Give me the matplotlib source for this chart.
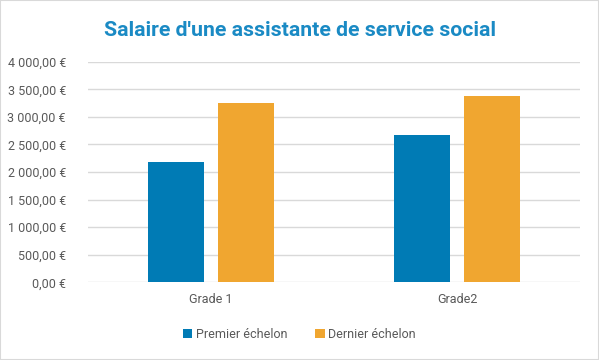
import numpy as np
import matplotlib.pyplot as plt
from matplotlib.ticker import FuncFormatter
from matplotlib.patches import Rectangle

categories = ['Grade 1', 'Grade2']
series_names = ['Premier échelon', 'Dernier échelon']
premier = [2187, 2665]
dernier = [3257, 3378]

colors = ['#007BB5', '#F0A630']
grey = '#595959'

plt.rcParams['font.family'] = ['Roboto', 'DejaVu Sans']

fig = plt.figure(figsize=(5.99, 3.6), dpi=100)
ax = fig.add_axes([88/599, 1 - 282.3/360, (580 - 88)/599, (282.3 - 61.7)/360])

x = np.arange(len(categories))
w = 0.23
off = 0.143
ax.bar(x - off, premier, w, color=colors[0], label=series_names[0], zorder=3)
ax.bar(x + off, dernier, w, color=colors[1], label=series_names[1], zorder=3)

ax.set_xlim(-0.5, 1.5)
ax.set_ylim(0, 4000)
ax.set_yticks(np.arange(0, 4001, 500))
ax.set_xticks(x)
ax.set_xticklabels(categories)

def euro(v, pos):
    s = f'{v:,.2f}'.replace(',', ' ').replace('.', ',')
    return s + ' €'
ax.yaxis.set_major_formatter(FuncFormatter(euro))

ax.grid(axis='y', color='#d9d9d9', lw=1, zorder=0)
for s in ax.spines.values():
    s.set_visible(False)
ax.tick_params(axis='both', length=0, colors=grey, labelsize=9)
ax.tick_params(axis='x', pad=8)
ax.tick_params(axis='y', pad=16)

fig.text(0.5, 1 - 31/360, "Salaire d'une assistante de service social", ha='center', va='center',
         fontsize=15.3, fontweight='bold', color='#1A8AC4')

fig.legend(loc='center', bbox_to_anchor=(0.5, 1 - 334/360), ncol=2, frameon=False,
           fontsize=9, labelcolor=grey, handlelength=0.75, handleheight=0.75, handletextpad=0.3,
           columnspacing=2.2)

fig.patches.append(Rectangle((0, 0), 1, 1, transform=fig.transFigure, fill=False,
                             edgecolor='#d9d9d9', lw=1.5))

fig.savefig('out.png', dpi=100)
